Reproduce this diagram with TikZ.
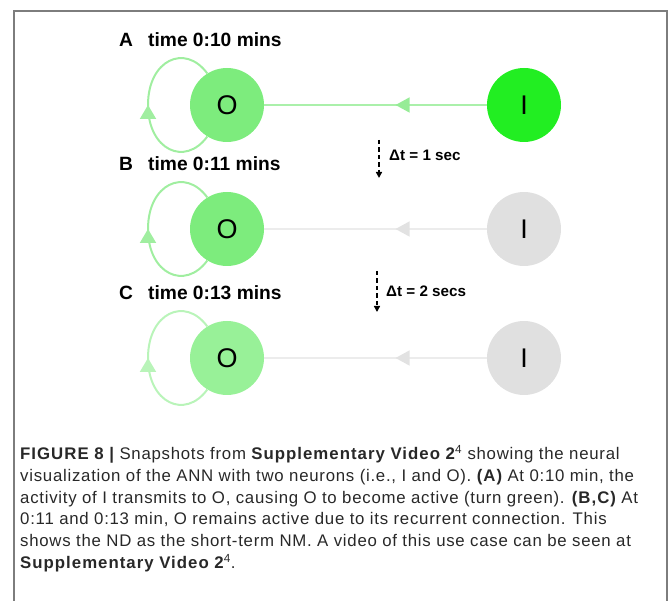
\documentclass[tikz,border=0pt]{standalone}
\usepackage{fontspec}
\setmainfont{Liberation Sans}
\usetikzlibrary{arrows.meta,positioning,decorations.markings}

\definecolor{oactA}{RGB}{125,236,125}
\definecolor{oactC}{RGB}{152,241,152}
\definecolor{iact}{RGB}{34,238,34}
\definecolor{iidle}{RGB}{224,224,224}
\definecolor{linkact}{RGB}{170,240,170}
\definecolor{linkidle}{RGB}{236,236,236}
\definecolor{triact}{RGB}{150,236,150}
\definecolor{triidle}{RGB}{226,226,226}
\definecolor{loopA}{RGB}{160,238,160}
\definecolor{loopC}{RGB}{185,244,185}
\definecolor{captext}{RGB}{40,40,40}
\definecolor{framegray}{RGB}{125,125,125}

\newcommand{\capbf}[1]{{\bfseries\addfontfeature{LetterSpace=6}#1}}

\begin{document}
\begin{tikzpicture}[x=1pt,y=1pt,
  neuron/.style={circle,minimum size=74pt,inner sep=0pt,font=\fontsize{27}{27}\selectfont},
  lbl/.style={anchor=west,inner sep=0pt,font=\fontsize{19.2}{19.2}\selectfont\bfseries},
  dtlbl/.style={anchor=west,inner sep=0pt,font=\fontsize{15.2}{15.2}\selectfont\bfseries},
  dtarrow/.style={line width=1.6pt,dash pattern=on 4.5pt off 3pt,-{Triangle[width=6pt,length=6pt]}},
  caption/.style={anchor=north west,inner sep=0pt,align=left,text=captext,
    font=\fontsize{16.8}{21.8}\selectfont\addfontfeature{LetterSpace=4.4}}]
  \useasboundingbox (0,0) rectangle (670,601);

  % frame
  \draw[framegray,line width=1.6pt] (14,-2) -- (14,590) -- (667,590) -- (667,-2);

  % three snapshots
  \foreach \r/\y/\t/\ofill/\ifill/\lcol/\tcol/\lpcol in {
      A/496/0:10/oactA/iact/linkact/triact/loopA,
      B/372/0:11/oactA/iidle/linkidle/triidle/loopA,
      C/243/0:13/oactC/iidle/linkidle/triidle/loopC} {
    \node[lbl] (lab\r) at (119,\y+65) {\r};
    \node[lbl] (time\r) at (148,\y+65) {time \t\ mins};
    \node[neuron,fill=\ofill] (o\r) at (227,\y) {O};
    \node[neuron,fill=\ifill] (i\r) at (524,\y) {I};
    % I -> O connection
    \draw[draw=\lcol,line width=1.4pt,postaction={decorate},
      decoration={markings,mark=at position 0.41 with
        {\arrow[color=\tcol]{Triangle[width=15pt,length=14pt]}}}]
      (i\r) -- (o\r);
    % recurrent loop
    \draw[draw=\lpcol,line width=2pt,postaction={decorate},
      decoration={markings,mark=at position 0.5 with
        {\arrow[color=\lpcol]{Triangle[width=16pt,length=14pt]}}}]
      (o\r.238) .. controls (185,\y-62) and (148,\y-45) .. (148,\y)
      .. controls (148,\y+45) and (185,\y+62) .. (o\r.122);
  }

  % time steps
  \coordinate (d1s) at (379,461);
  \coordinate (d1e) at (379,423);
  \draw[dtarrow] (d1s) -- (d1e);
  \node[dtlbl] (dt1) at (389,446) {Δt = 1 sec};
  \coordinate (d2s) at (377,330);
  \coordinate (d2e) at (377,289);
  \draw[dtarrow] (d2s) -- (d2e);
  \node[dtlbl] (dt2) at (386,310) {Δt = 2 secs};

  % caption
  \node[caption] (cap) at (20,156) {%
    \capbf{FIGURE 8 |} Snapshots from \capbf{Supplementary Video 2}\textsuperscript{4} showing the neural\\
    visualization of the ANN with two neurons (i.e., I and O). \capbf{(A)} At 0:10 min, the\\
    activity of I transmits to O, causing O to become active (turn green). \capbf{(B,C)} At\\
    0:11 and 0:13 min, O remains active due to its recurrent connection. This\\
    shows the ND as the short-term NM. A video of this use case can be seen at\\
    \capbf{Supplementary Video 2}\textsuperscript{4}.};
\end{tikzpicture}
\end{document}
